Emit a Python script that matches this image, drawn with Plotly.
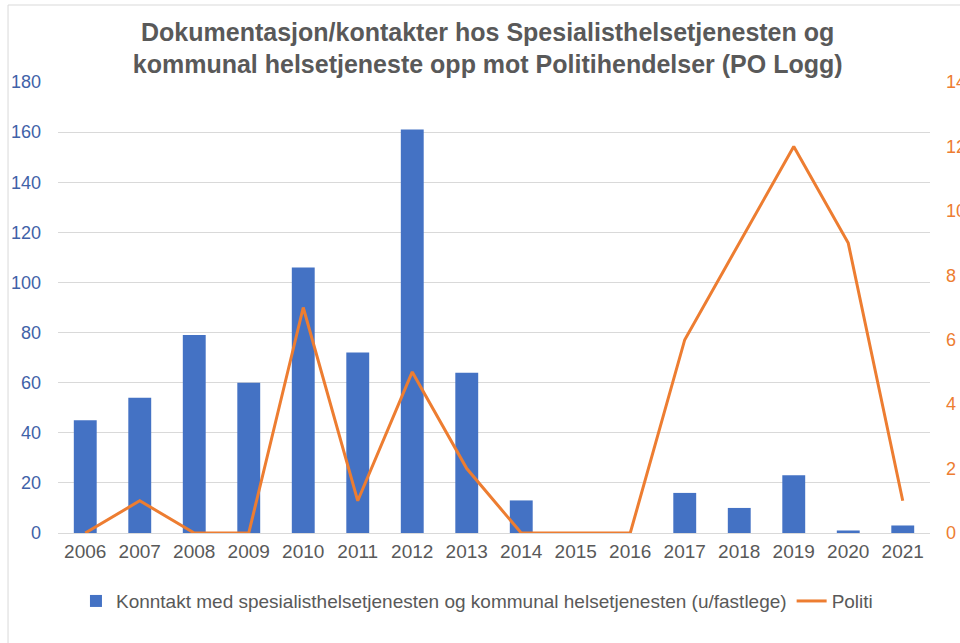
import plotly.graph_objects as go

years = ["2006", "2007", "2008", "2009", "2010", "2011", "2012", "2013",
         "2014", "2015", "2016", "2017", "2018", "2019", "2020", "2021"]
kontakt = [45, 54, 79, 60, 106, 72, 161, 64, 13, 0, 0, 16, 10, 23, 1, 3]
politi = [0, 1, 0, 0, 7, 1, 5, 2, 0, 0, 0, 6, 9, 12, 9, 1]

left_ticks = [0, 20, 40, 60, 80, 100, 120, 140, 160, 180]
right_ticks = [0, 2, 4, 6, 8, 10, 12, 14]

BLUE = "#4472C4"
ORANGE = "#ED7D31"
GREY = "#595959"
GRID = "#D9D9D9"
FONT = "Liberation Sans, Arial, sans-serif"

fig = go.Figure()
fig.add_trace(go.Bar(
    x=years, y=kontakt,
    name="Konntakt med spesialisthelsetjenesten og kommunal helsetjenesten (u/fastlege)",
    marker=dict(color=BLUE, line=dict(width=0)),
    yaxis="y",
))
fig.add_trace(go.Scatter(
    x=years, y=politi, name="Politi", mode="lines",
    line=dict(color=ORANGE, width=3),
    yaxis="y2",
))

fig.update_layout(
    width=960, height=643,
    margin=dict(l=58, r=30, t=82, b=110, autoexpand=False),
    paper_bgcolor="white", plot_bgcolor="white",
    font=dict(family=FONT, size=19, color=GREY),
    bargap=0.58,
    title=dict(
        text="<b>Dokumentasjon/kontakter hos Spesialisthelsetjenesten og<br>"
             "kommunal helsetjeneste opp mot Politihendelser (PO Logg)</b>",
        xref="container", x=0.508, xanchor="center",
        yref="container", y=0.937, yanchor="middle",
        font=dict(family=FONT, size=25, color=GREY),
    ),
    xaxis=dict(
        type="category", showgrid=False, showline=False, zeroline=False,
        tickfont=dict(size=19, color=GREY), ticks="", ticklabelstandoff=5,
        automargin=False,
    ),
    yaxis=dict(
        range=[0, 180], tickvals=left_ticks, showgrid=True, gridcolor=GRID,
        gridwidth=1, zeroline=True, zerolinecolor=GRID, zerolinewidth=1,
        showline=False, ticks="", tickfont=dict(size=18, color="#3F62A8"),
        ticklabelstandoff=16, automargin=False,
    ),
    yaxis2=dict(
        range=[0, 14], tickvals=right_ticks, overlaying="y", side="right",
        showgrid=False, zeroline=False, showline=False, ticks="",
        tickfont=dict(size=18, color=ORANGE), ticklabelstandoff=15,
        automargin=False,
    ),
    legend=dict(
        orientation="h", x=0.0206, xanchor="left", y=-0.151, yanchor="middle",
        font=dict(size=19, color=GREY), itemwidth=30, traceorder="normal",
        bgcolor="rgba(0,0,0,0)",
    ),
    showlegend=True,
    shapes=[dict(
        type="rect", xref="paper", yref="paper",
        x0=-0.0573, x1=1.2, y0=-0.3, y1=1.1707,
        line=dict(color=GRID, width=1), fillcolor="rgba(0,0,0,0)", layer="below",
    )],
)

fig.write_html("out.html")
